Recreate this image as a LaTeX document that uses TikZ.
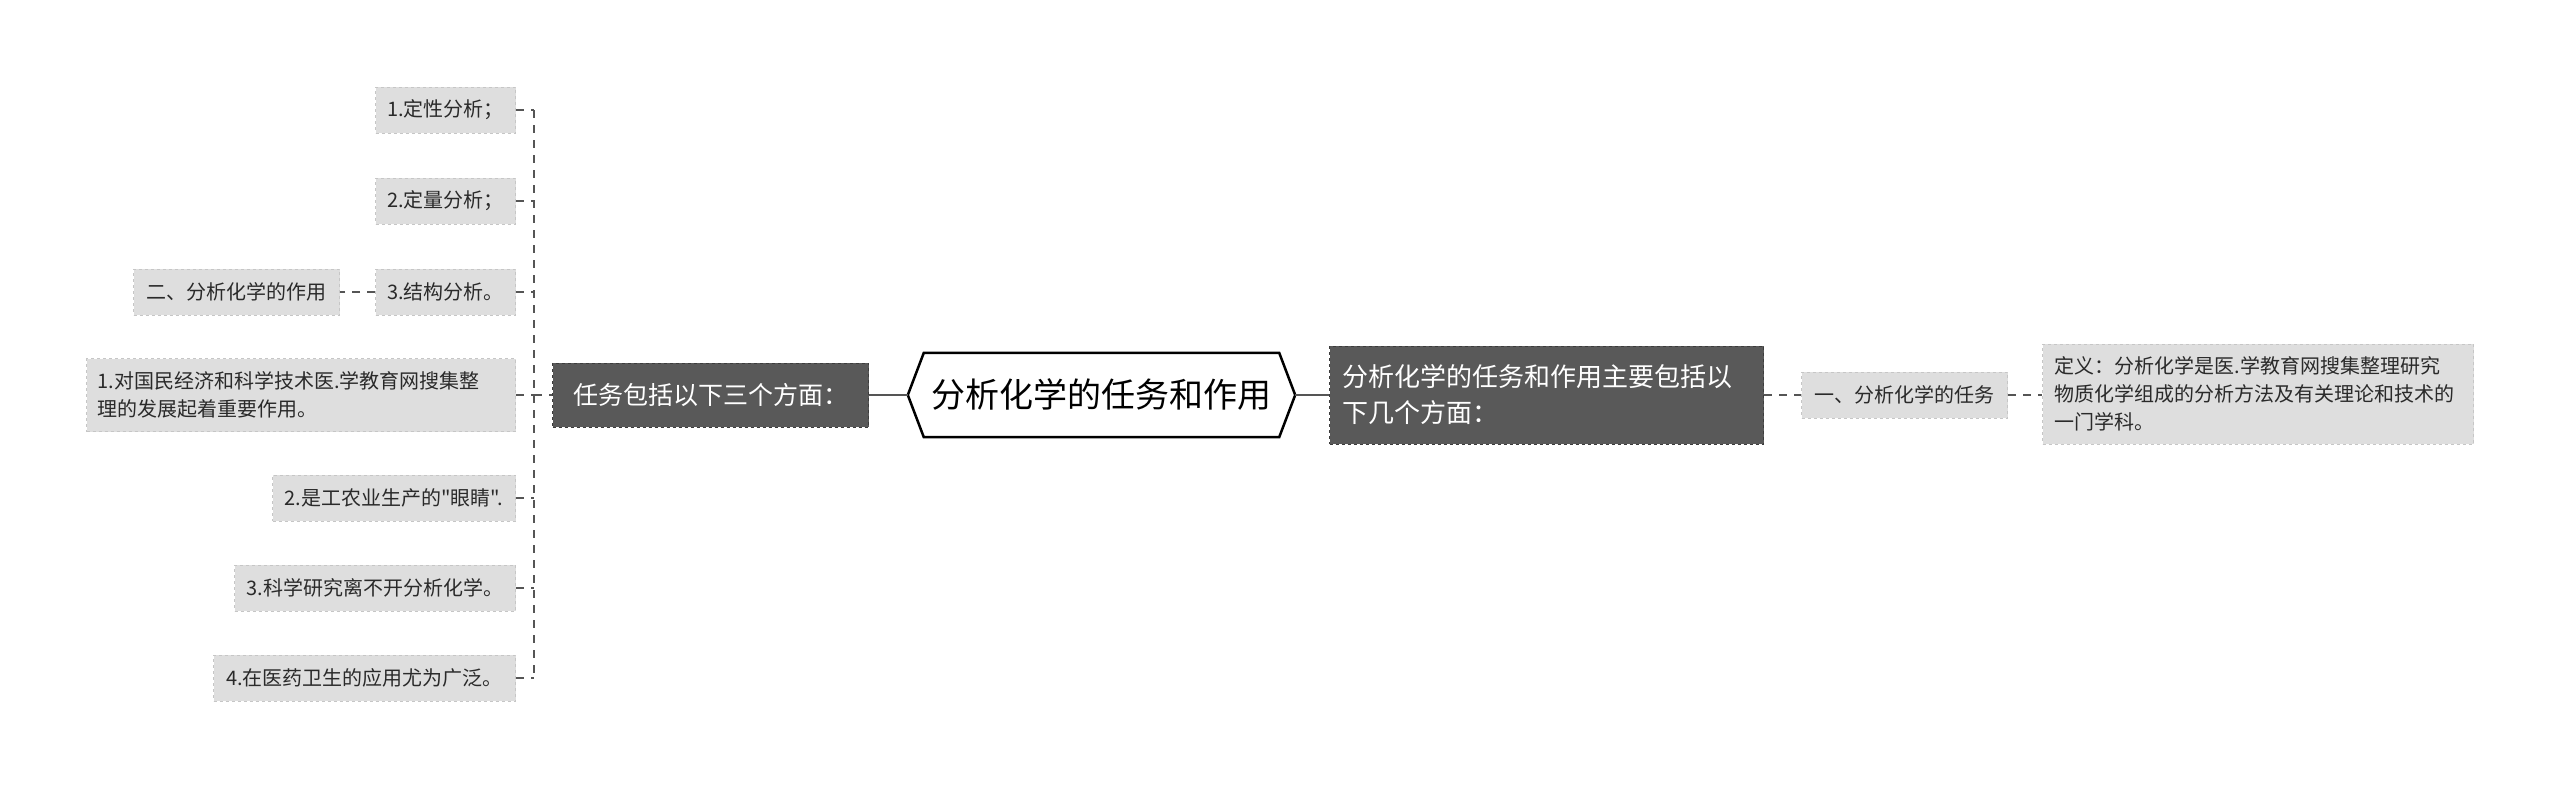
\documentclass[tikz,border=0pt]{standalone}
\usepackage{fontspec}
\setmainfont{Noto Sans CJK SC}[Ligatures=TeXOff]
\usetikzlibrary{calc}
\definecolor{lightfill}{HTML}{DEDEDE}
\definecolor{lightborder}{HTML}{C6C6C6}
\definecolor{darkfill}{HTML}{595959}
\definecolor{darkborder}{HTML}{3C3C3C}
\definecolor{textdark}{HTML}{2A2A2A}
\definecolor{linecol}{HTML}{555555}
\tikzset{
  lbox/.style={fill=lightfill, draw=lightborder, dashed, line width=1pt, inner xsep=11pt, inner ysep=0pt,
    minimum height=46pt, font=\fontsize{20}{28}\selectfont, text=textdark},
  dbox/.style={fill=darkfill, draw=darkborder, dashed, line width=1pt, inner ysep=0pt, text=white},
  dashline/.style={draw=linecol, line width=1.8pt, dash pattern=on 8pt off 7pt},
  solidline/.style={draw=linecol, line width=2.5pt},
}
\begin{document}
\begin{tikzpicture}[x=1pt,y=-1pt]
\useasboundingbox (0,0) rectangle (2560,790);
% centre hexagon
\node (c) at (1101.5,395) [minimum width=387pt, minimum height=84pt, inner sep=0pt,
  font=\fontsize{34}{40}\selectfont, text=black] {分析化学的任务和作用};
\draw[line width=2.5pt, line join=miter, fill=none]
  (c.west) -- ($(c.north west)+(16,0)$) -- ($(c.north east)+(-16,0)$) -- (c.east)
  -- ($(c.south east)+(-16,0)$) -- ($(c.south west)+(16,0)$) -- cycle;
% left main branch
\node[dbox, anchor=east, minimum width=316pt, minimum height=64pt, inner xsep=0pt,
  font=\fontsize{25}{30}\selectfont] (t) at (869,395) {任务包括以下三个方面：};
% right main branch
\node[dbox, anchor=west, minimum width=434pt, minimum height=98pt, text width=408pt, inner xsep=13pt,
  align=left, font=\fontsize{26}{36}\selectfont] (r) at (1329,395)
  {分析化学的任务和作用主要包括以\\下几个方面：};
\node[lbox, anchor=west, minimum width=206pt] (r1) at (1801,395) {一、分析化学的任务};
\node[lbox, anchor=west, minimum width=431pt, minimum height=100pt, text width=407pt, inner xsep=12pt,
  align=left] (r2) at (2042,394)
  {定义：分析化学是医.学教育网搜集整理研究\\物质化学组成的分析方法及有关理论和技术的\\一门学科。};
% left leaves
\node[lbox, anchor=east, minimum width=140pt] (l1) at (516,110) {1.定性分析；};
\node[lbox, anchor=east, minimum width=140pt] (l2) at (516,201) {2.定量分析；};
\node[lbox, anchor=east, minimum width=140pt] (l3) at (516,292) {3.结构分析。};
\node[lbox, anchor=east, minimum width=206pt] (l3a) at (340,292) {二、分析化学的作用};
\node[lbox, anchor=east, minimum width=429pt, minimum height=73pt, text width=407pt, align=left] (l4) at (516,395)
  {1.对国民经济和科学技术医.学教育网搜集整\\理的发展起着重要作用。};
\node[lbox, anchor=east, minimum width=243pt] (l5) at (516,498) {2.是工农业生产的"眼睛".};
\node[lbox, anchor=east, minimum width=281pt] (l6) at (516,588) {3.科学研究离不开分析化学。};
\node[lbox, anchor=east, minimum width=302pt] (l7) at (516,678) {4.在医药卫生的应用尤为广泛。};
% connectors
\coordinate (sp) at (534,395);
\draw[solidline] (t.east) -- (c.west);
\draw[solidline] (c.east) -- (r.west);
\draw[dashline] (r.east) -- (r1.west);
\draw[dashline] (r1.east) -- (r2.west |- r1.east);
\draw[dashline] (l3.west) -- (l3a.east);
\draw[dashline] (l1.east -| sp) -- (l7.east -| sp);
\draw[dashline] (sp) -- (t.west);
\foreach \n in {l1,l2,l3,l4,l5,l6,l7} {
  \draw[dashline] (\n.east) -- (\n.east -| sp);
}
\end{tikzpicture}
\end{document}
